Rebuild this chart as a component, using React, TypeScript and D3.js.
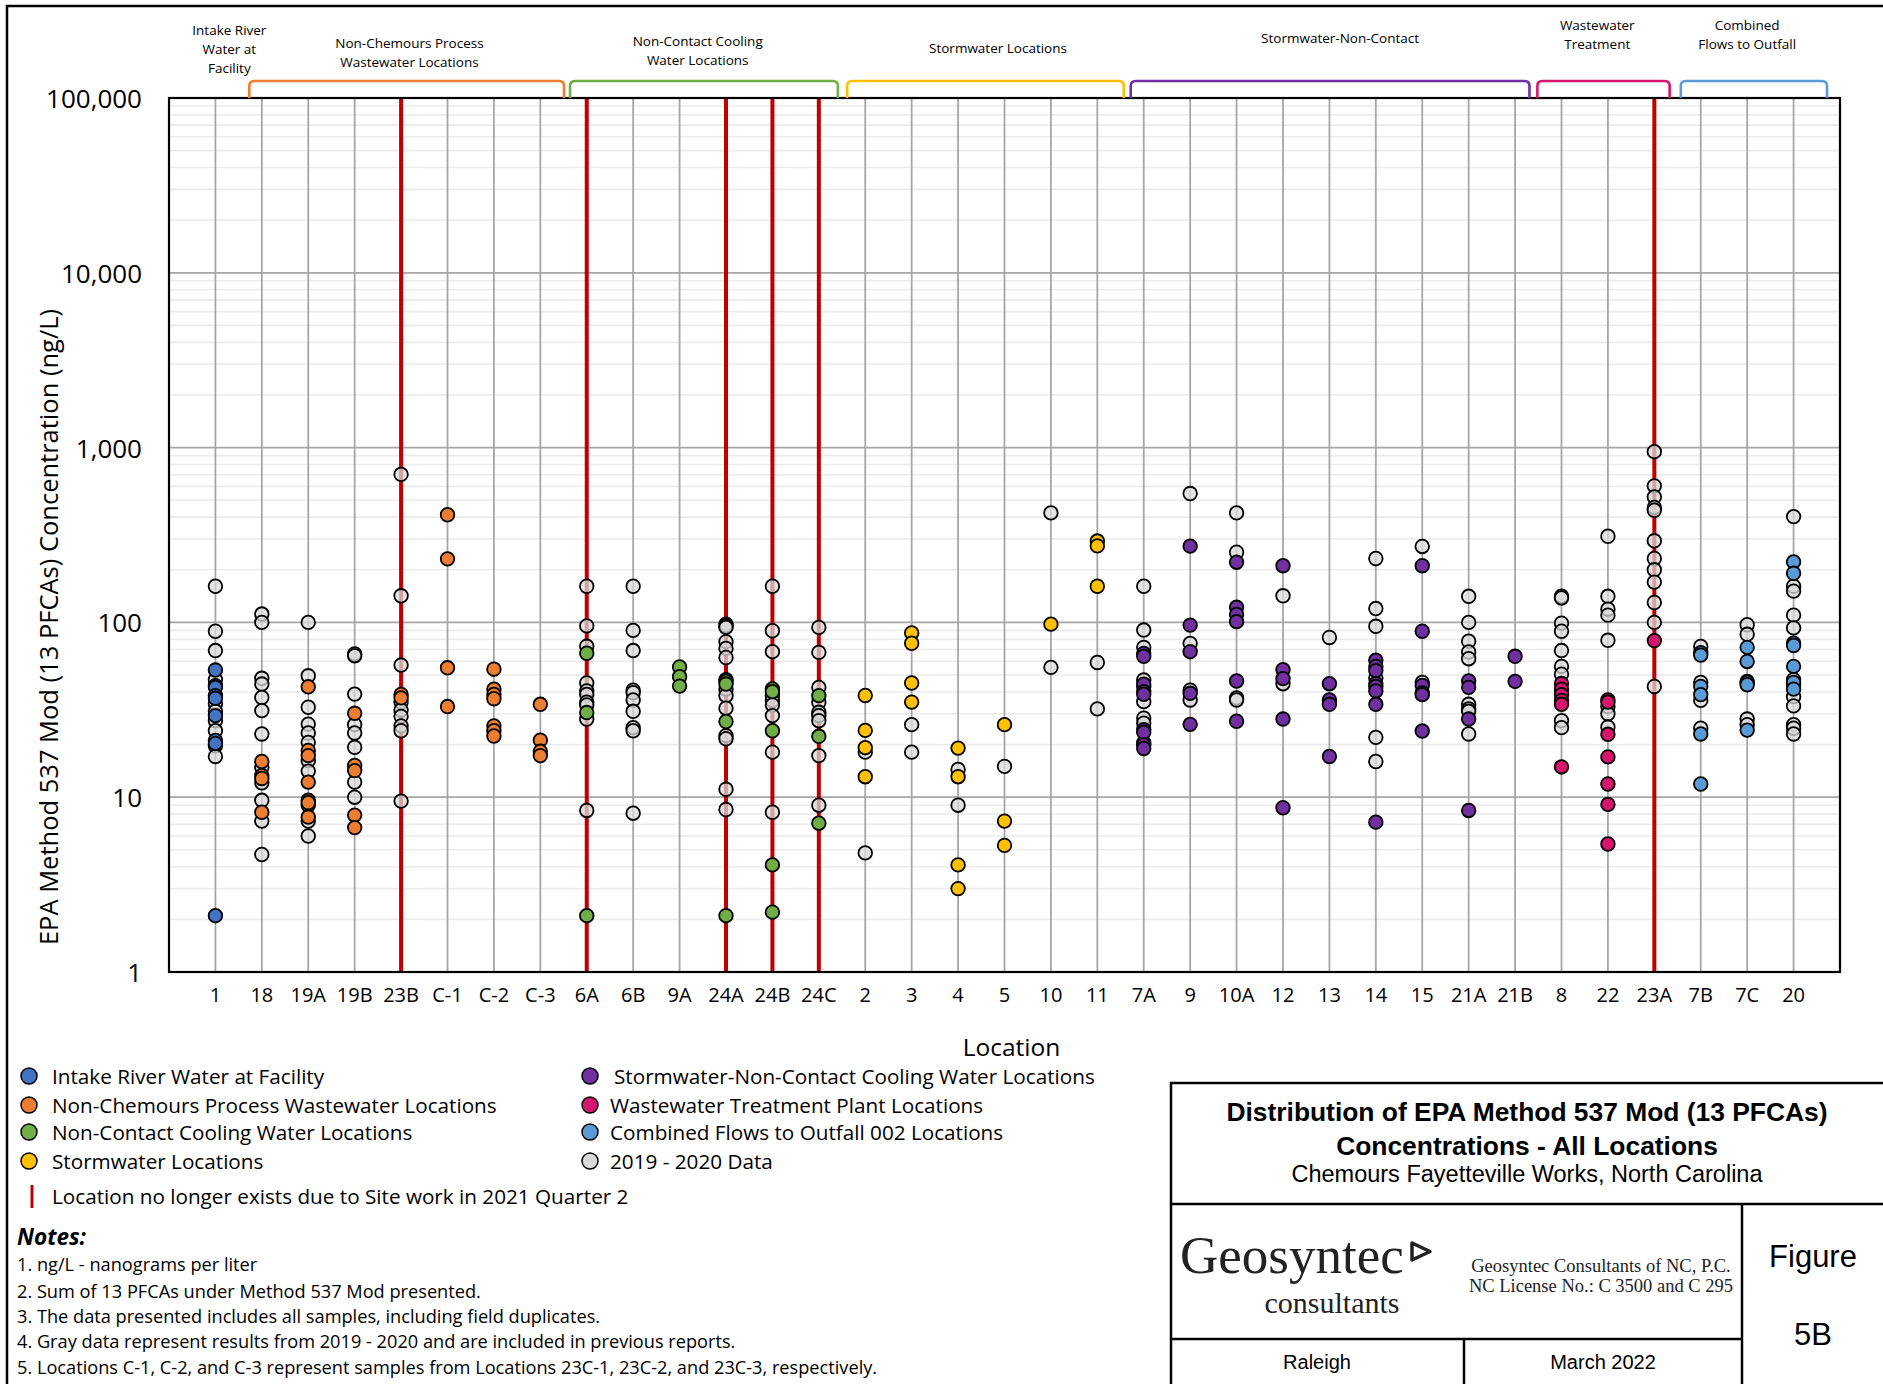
import React from "react";
import * as d3 from "d3";

// ---------- DATA ----------
const categories = ["1","18","19A","19B","23B","C-1","C-2","C-3","6A","6B","9A","24A","24B","24C","2","3","4","5","10","11","7A","9","10A","12","13","14","15","21A","21B","8","22","23A","7B","7C","20"];
const yTicks = [1, 10, 100, 1000, 10000, 100000];
const removedLocations = ["23B","6A","24A","24B","24C","23A"];

type Series = [string, number[]][];

const priorData: Series = [
  ["1", [161, 89, 69, 47, 34.2, 31, 27.4, 24, 19.7, 17.1]],
  ["18", [111.6, 100, 47.9, 44.4, 37.2, 31.3, 23, 14.8, 12.1, 9.6, 7.3, 4.7]],
  ["19A", [100, 49.5, 32.7, 26.2, 23.3, 20.6, 16.2, 14.1, 9.0, 7.3, 6.0]],
  ["19B", [66, 64.5, 38.9, 26, 23.3, 19.3, 12.2, 10]],
  ["23B", [703, 142, 57, 35, 31.5, 29, 25.6, 24, 9.5]],
  ["6A", [161, 95.5, 73, 45, 40.6, 38.7, 35, 33.7, 28, 8.4]],
  ["6B", [161, 90, 69, 41, 39.6, 36, 31, 25, 24, 8.1]],
  ["24A", [97.8, 95.7, 93.6, 77.6, 71, 63, 47, 41.5, 38.1, 32.3, 22.5, 21.6, 11.1, 8.5]],
  ["24B", [161, 89.6, 68, 38.1, 35.7, 33.7, 29.3, 18.1, 8.2]],
  ["24C", [93.6, 67.4, 42.5, 34.9, 30.6, 29.3, 27.4, 17.3, 9.0]],
  ["2", [18.1, 4.8]],
  ["3", [26, 18.1]],
  ["4", [14.4, 9.0]],
  ["5", [15]],
  ["10", [423, 55.3]],
  ["11", [59, 32]],
  ["7A", [161, 90.4, 72, 46.8, 43, 35.2, 28.3, 26.5, 20.5]],
  ["9", [546, 75.9, 41, 36]],
  ["10A", [423, 252, 37, 36]],
  ["12", [142, 44.6]],
  ["13", [82]],
  ["14", [232, 120, 95, 48, 22, 16]],
  ["15", [272, 45.3]],
  ["21A", [141, 100, 78, 67.7, 62, 34, 32, 31, 23]],
  ["8", [141, 138, 99, 89, 69, 56, 50.5, 27.4, 25]],
  ["22", [311, 141, 119, 110, 79, 33, 30, 25.2]],
  ["23A", [948, 604, 522, 455, 438, 293, 232, 200, 170, 130, 100, 43]],
  ["7B", [72.8, 45.3, 35.8, 24.8]],
  ["7C", [97, 85.5, 46, 28, 26]],
  ["20", [403, 161, 151, 110, 93, 47, 43.6, 37.6, 33.3, 26, 24.8, 23]],
];

const intakeData: Series = [
  ["1", [53.4, 43.5, 42.5, 38.1, 36.8, 29.3, 21.1, 20.3, 2.1]],
];

const nonChemoursData: Series = [
  ["18", [16, 13.3, 12.8, 8.2]],
  ["19A", [42.8, 18.5, 17.3, 12.2, 9.6, 9.3, 7.7]],
  ["19B", [30.2, 15.2, 14.2, 7.9, 6.7]],
  ["23B", [38.7, 37]],
  ["C-1", [413, 231, 55, 33]],
  ["C-2", [54, 41.5, 38.7, 36.6, 25.6, 24, 22.4]],
  ["C-3", [34, 21.2, 18.3, 17.3]],
];

const coolingData: Series = [
  ["6A", [66.6, 30.5, 2.1]],
  ["9A", [55.6, 48.9, 43.2]],
  ["24A", [46, 44.4, 27.1, 2.1]],
  ["24B", [41.6, 40.2, 24, 4.1, 2.2]],
  ["24C", [38.1, 22.3, 7.1]],
];

const stormwaterData: Series = [
  ["2", [38.2, 24.1, 19.2, 13.1]],
  ["3", [87, 76, 45, 35]],
  ["4", [19.1, 13.1, 4.1, 3.0]],
  ["5", [26, 7.3, 5.3]],
  ["10", [97.7]],
  ["11", [292, 274, 161]],
];

const stormNonContactData: Series = [
  ["7A", [66.5, 64, 44.3, 40.2, 38.8, 24.3, 23.5, 19.9, 19]],
  ["9", [273, 96.5, 68, 39.3, 26.1]],
  ["10A", [221, 122, 111, 101, 46.2, 27.2]],
  ["12", [211, 53.6, 47.7, 28, 8.7]],
  ["13", [44.6, 36, 34, 17.1]],
  ["14", [60.7, 56, 53, 44.7, 43, 40.5, 34, 7.2]],
  ["15", [211, 89, 43.6, 39.5, 38.6, 23.9]],
  ["21A", [46.2, 42.5, 28, 8.4]],
  ["21B", [64, 46]],
];

const wastewaterData: Series = [
  ["8", [44.7, 41.5, 38.6, 35.8, 34, 14.9]],
  ["22", [36, 35, 22.9, 17, 11.9, 9.1, 5.4]],
  ["23A", [78.7]],
];

const combinedData: Series = [
  ["7B", [67, 65, 43, 38.6, 23, 11.9]],
  ["7C", [72, 59.8, 45.3, 44, 24.2]],
  ["20", [222, 191, 76, 73.8, 56, 45.3, 41.5]],
];

const legendLeft = [
  "Intake River Water at Facility",
  "Non-Chemours Process Wastewater Locations",
  "Non-Contact Cooling Water Locations",
  "Stormwater Locations",
];
const legendRight = [
  "Stormwater-Non-Contact Cooling Water Locations",
  "Wastewater Treatment Plant Locations",
  "Combined Flows to Outfall 002 Locations",
  "2019 - 2020 Data",
];
const notes = [
  "1. ng/L - nanograms per liter",
  "2. Sum of 13 PFCAs under Method 537 Mod presented.",
  "3. The data presented includes all samples, including field duplicates.",
  "4. Gray data represent results from 2019 - 2020 and are included in previous reports.",
  "5. Locations C-1, C-2, and C-3 represent samples from Locations 23C-1, 23C-2, and 23C-3, respectively.",
];

// group brackets: [label lines, start index, end index, label index, color]
const groupBrackets: [string[], number, number, number, string][] = [
  [["Non-Chemours Process", "Wastewater Locations"], 0.73, 7.51, 4.18, "#ED7D31"],
  [["Non-Contact Cooling", "Water Locations"], 7.64, 13.41, 10.39, "#70AD47"],
  [["Stormwater Locations"], 13.61, 19.57, 16.86, "#FFC000"],
  [["Stormwater-Non-Contact"], 19.72, 28.31, 24.23, "#7030A0"],
  [["Wastewater", "Treatment"], 28.48, 31.33, 29.77, "#D6166E"],
  [["Combined", "Flows to Outfall"], 31.57, 34.72, 33.0, "#5B9BD5"],
];

// ---------- STYLE ----------
const C_INTAKE = "#4472C4";
const C_ORANGE = "#ED7D31";
const C_GREEN = "#70AD47";
const C_YELLOW = "#FFC000";
const C_PURPLE = "#7030A0";
const C_PINK = "#D6166E";
const C_COMB = "#5B9BD5";
const C_GRAY = "#D9D9D9";
const FONT = "'Open Sans', 'Noto Sans', sans-serif";
const ARIAL = "'Liberation Sans', Arial, sans-serif";
const SERIF = "'Liberation Serif', 'Times New Roman', serif";

const W = 1883, H = 1384;
const PL = 169, PR = 1840, PT = 98, PB = 972;

export default function App() {
  const x = d3.scalePoint<string>().domain(categories).range([PL, PR]).padding(1);
  const y = d3.scaleLog().domain([1, 100000]).range([PB, PT]);
  const step = x.step();
  const x0 = x(categories[0]) as number;
  const xi = (i: number) => x0 + i * step;

  const minorTicks: number[] = [];
  for (let dec = 1; dec < 100000; dec *= 10) {
    for (let k = 2; k <= 9; k++) minorTicks.push(dec * k);
  }

  const coloredSeries: [Series, string][] = [
    [intakeData, C_INTAKE],
    [nonChemoursData, C_ORANGE],
    [coolingData, C_GREEN],
    [stormwaterData, C_YELLOW],
    [stormNonContactData, C_PURPLE],
    [wastewaterData, C_PINK],
    [combinedData, C_COMB],
  ];

  const renderSeries = (s: Series, color: string, key: string, opacity = 1) =>
    s.flatMap(([cat, vals]) =>
      vals.map((v, j) => (
        <circle
          key={`${key}-${cat}-${j}`}
          cx={x(cat) as number}
          cy={y(v)}
          r={6.8}
          fill={color}
          fillOpacity={opacity}
          stroke="#000"
          strokeWidth={1.8}
        />
      ))
    );

  const legendColorsLeft = [C_INTAKE, C_ORANGE, C_GREEN, C_YELLOW];
  const legendColorsRight = [C_PURPLE, C_PINK, C_COMB, C_GRAY];
  const legendRows = [1076, 1105, 1132, 1161];

  return (
    <svg
      width={W}
      height={H}
      style={{ position: "absolute", left: 0, top: 0, background: "#fff" }}
    >
      <rect x={0} y={0} width={W} height={H} fill="#fff" />
      {/* outer frame */}
      <rect x={7} y={6} width={W + 20} height={H + 20} fill="none" stroke="#000" strokeWidth={2.5} />

      {/* minor gridlines */}
      {minorTicks.map((t) => (
        <line key={`mn${t}`} x1={PL} x2={PR} y1={y(t)} y2={y(t)} stroke="#EBEBEB" strokeWidth={1.6} />
      ))}
      {/* major gridlines */}
      {yTicks.map((t) => (
        <line key={`mj${t}`} x1={PL} x2={PR} y1={y(t)} y2={y(t)} stroke="#A6A6A6" strokeWidth={1.8} />
      ))}
      {/* vertical gridlines */}
      {categories.map((c) => (
        <line key={`vg${c}`} x1={x(c) as number} x2={x(c) as number} y1={PT} y2={PB} stroke="#A6A6A6" strokeWidth={1.8} />
      ))}
      {/* removed-location red lines */}
      {removedLocations.map((c) => (
        <line key={`rl${c}`} x1={x(c) as number} x2={x(c) as number} y1={PT} y2={PB} stroke="#C00000" strokeWidth={4} />
      ))}

      {/* points */}
      {renderSeries(priorData, C_GRAY, "gray", 0.75)}
      {coloredSeries.map(([s, c], i) => renderSeries(s, c, `s${i}`))}

      {/* plot border */}
      <rect x={PL} y={PT} width={PR - PL} height={PB - PT} fill="none" stroke="#000" strokeWidth={2.2} />

      {/* y tick labels */}
      {yTicks.map((t) => (
        <text key={`yt${t}`} x={142} y={y(t)} textAnchor="end" dominantBaseline="central" fontFamily={FONT} fontSize={26} fill="#000">
          {d3.format(",")(t)}
        </text>
      ))}
      {/* x tick labels */}
      {categories.map((c) => (
        <text key={`xt${c}`} x={x(c) as number} y={994} textAnchor="middle" dominantBaseline="central" fontFamily={FONT} fontSize={20} fill="#000">
          {c}
        </text>
      ))}
      <text x={(PL + PR) / 2 + 7} y={1046} textAnchor="middle" dominantBaseline="central" fontFamily={FONT} fontSize={24.5}>
        Location
      </text>
      <text
        transform={`translate(48,627) rotate(-90)`}
        textAnchor="middle"
        dominantBaseline="central"
        fontFamily={FONT}
        fontSize={25.5}
      >
        EPA Method 537 Mod (13 PFCAs) Concentration (ng/L)
      </text>

      {/* group brackets and labels */}
      {["Intake River", "Water at", "Facility"].map((l, i) => (
        <text key={`ir${i}`} x={xi(0.3)} y={30 + i * 19} textAnchor="middle" dominantBaseline="central" fontFamily={FONT} fontSize={13.5}>
          {l}
        </text>
      ))}
      {groupBrackets.map(([lines, a, b, lab, color], gi) => {
        const xa = xi(a), xb = xi(b);
        const top = 81, bot = PT, r = 5;
        const mid = xi(lab);
        const lineY = lines.length === 1 ? [gi === 2 ? 48 : 38] : gi >= 4 ? [25, 44] : gi === 0 ? [43, 62] : [41, 60];
        return (
          <g key={`gb${gi}`}>
            <path
              d={`M${xa},${bot} L${xa},${top + r} Q${xa},${top} ${xa + r},${top} L${xb - r},${top} Q${xb},${top} ${xb},${top + r} L${xb},${bot}`}
              fill="none"
              stroke={color}
              strokeWidth={2.6}
            />
            {lines.map((l, li) => (
              <text key={li} x={mid} y={lineY[li]} textAnchor="middle" dominantBaseline="central" fontFamily={FONT} fontSize={13.5}>
                {l}
              </text>
            ))}
          </g>
        );
      })}

      {/* legend */}
      {legendLeft.map((t, i) => (
        <g key={`ll${i}`}>
          <circle cx={29} cy={legendRows[i]} r={8} fill={legendColorsLeft[i]} stroke="#000" strokeWidth={1.5} />
          <text x={52} y={legendRows[i]} dominantBaseline="central" fontFamily={FONT} fontSize={20.7}>
            {t}
          </text>
        </g>
      ))}
      {legendRight.map((t, i) => (
        <g key={`lr${i}`}>
          <circle cx={590} cy={legendRows[i]} r={8} fill={legendColorsRight[i]} stroke="#000" strokeWidth={1.5} />
          <text x={i === 0 ? 614 : 610} y={legendRows[i]} dominantBaseline="central" fontFamily={FONT} fontSize={20.7}>
            {t}
          </text>
        </g>
      ))}
      <line x1={32} x2={32} y1={1185} y2={1208} stroke="#C00000" strokeWidth={3} />
      <text x={52} y={1196} dominantBaseline="central" fontFamily={FONT} fontSize={20.7}>
        Location no longer exists due to Site work in 2021 Quarter 2
      </text>

      {/* notes */}
      <text x={17} y={1236} dominantBaseline="central" fontFamily={FONT} fontSize={22.5} fontWeight="bold" fontStyle="italic">
        Notes:
      </text>
      {notes.map((n, i) => (
        <text key={`n${i}`} x={17} y={[1264, 1291, 1316, 1341, 1367][i]} dominantBaseline="central" fontFamily={FONT} fontSize={18.2}>
          {n}
        </text>
      ))}

      {/* title block */}
      <g stroke="#000" strokeWidth={2.5} fill="none">
        <rect x={1171} y={1083} width={W} height={H} />
        <line x1={1171} x2={W} y1={1204} y2={1204} />
        <line x1={1742} x2={1742} y1={1204} y2={H} />
        <line x1={1171} x2={1742} y1={1339} y2={1339} />
        <line x1={1464} x2={1464} y1={1339} y2={H} />
      </g>
      <text x={1527} y={1112} textAnchor="middle" dominantBaseline="central" fontFamily={ARIAL} fontWeight="bold" fontSize={26.4}>
        Distribution of EPA Method 537 Mod (13 PFCAs)
      </text>
      <text x={1527} y={1146} textAnchor="middle" dominantBaseline="central" fontFamily={ARIAL} fontWeight="bold" fontSize={26.4}>
        Concentrations - All Locations
      </text>
      <text x={1527} y={1174} textAnchor="middle" dominantBaseline="central" fontFamily={ARIAL} fontSize={23.5}>
        Chemours Fayetteville Works, North Carolina
      </text>
      <text x={1180} y={1273} fontFamily={SERIF} fontSize={53} fill="#222">
        Geosyntec
      </text>
      <path d="M1412,1243 L1430,1251.5 L1412,1260 Z" fill="none" stroke="#222" strokeWidth={3.5} strokeLinejoin="round" />
      <text x={1332} y={1302} textAnchor="middle" dominantBaseline="central" fontFamily={SERIF} fontSize={30} fill="#222">
        consultants
      </text>
      <text x={1601} y={1266} textAnchor="middle" dominantBaseline="central" fontFamily={SERIF} fontSize={18.5} fill="#222">
        Geosyntec Consultants of NC, P.C.
      </text>
      <text x={1601} y={1286} textAnchor="middle" dominantBaseline="central" fontFamily={SERIF} fontSize={18.5} fill="#222">
        NC License No.: C  3500 and C  295
      </text>
      <text x={1813} y={1256} textAnchor="middle" dominantBaseline="central" fontFamily={ARIAL} fontSize={31}>
        Figure
      </text>
      <text x={1813} y={1334} textAnchor="middle" dominantBaseline="central" fontFamily={ARIAL} fontSize={31}>
        5B
      </text>
      <text x={1317} y={1362} textAnchor="middle" dominantBaseline="central" fontFamily={ARIAL} fontSize={20}>
        Raleigh
      </text>
      <text x={1603} y={1362} textAnchor="middle" dominantBaseline="central" fontFamily={ARIAL} fontSize={20}>
        March 2022
      </text>
    </svg>
  );
}
